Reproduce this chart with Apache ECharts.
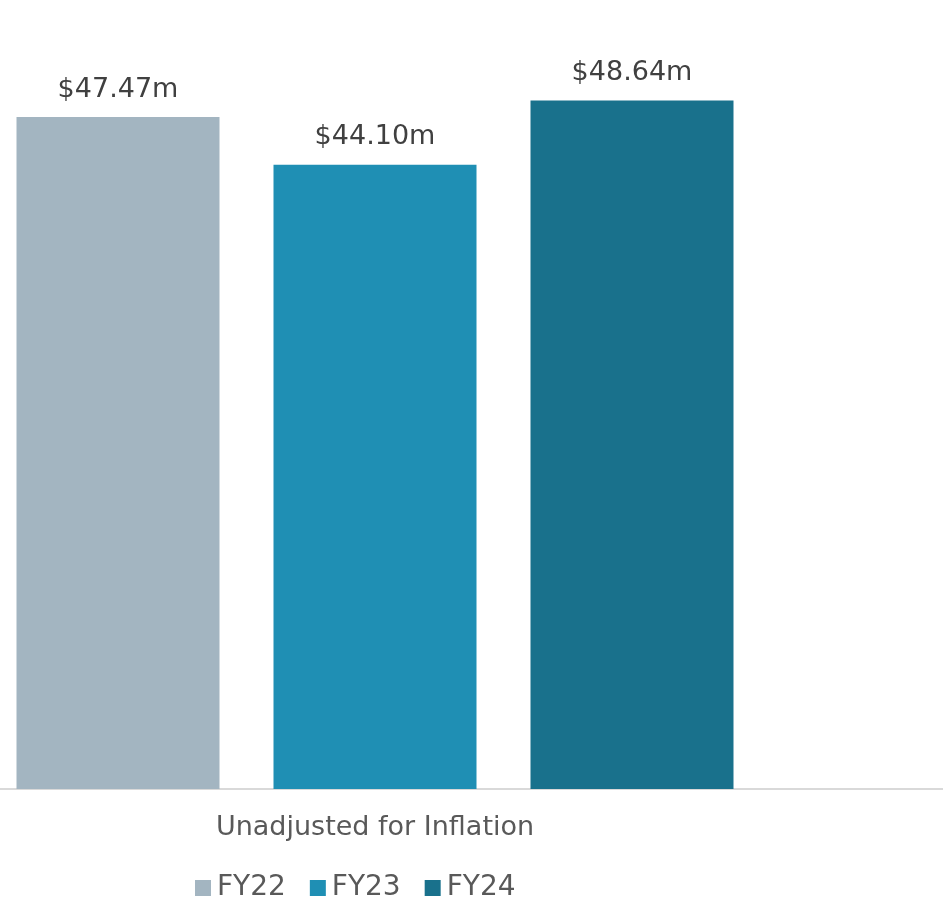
<!DOCTYPE html>
<html><head><meta charset="utf-8">
<script src="https://cdn.jsdelivr.net/npm/echarts@6/dist/echarts.min.js"></script>
<style>html,body{margin:0;padding:0;background:#fff}#c{width:943px;height:903px}</style>
</head><body><div id="c"></div>
<script>
const categories = ['Unadjusted for Inflation', ''];
const seriesNames = ['FY22', 'FY23', 'FY24'];
const fy22 = [47.47];
const fy23 = [44.10];
const fy24 = [48.64];
const colors = ['#a3b5c1', '#1f8fb4', '#19718c'];
const font = 'DejaVu Sans';
const chart = echarts.init(document.getElementById('c'));
const mk = (name, data, color) => ({
  name, type: 'bar', data, barWidth: 203, barGap: '26.6%',
  itemStyle: { color },
  label: { show: true, position: 'top', distance: 14, color: '#404040', fontFamily: font, fontSize: 27,
    formatter: p => '$' + p.value.toFixed(2) + 'm' }
});
chart.setOption({
  animation: false,
  color: colors,
  grid: { left: 0, top: 81.2, bottom: 114, width: 1500, outerBoundsMode: 'none', containLabel: false },
  xAxis: { type: 'category', data: categories,
    axisLine: { lineStyle: { color: '#d9d9d9', width: 2 } }, axisTick: { show: false },
    axisLabel: { color: '#595959', fontFamily: font, fontSize: 27, margin: 25 } },
  yAxis: { type: 'value', min: 0, max: 50, show: false, splitLine: { show: false } },
  legend: { top: 874, left: 195, padding: 0, itemWidth: 16, itemHeight: 16, itemGap: 24, icon: 'rect',
    textStyle: { color: '#595959', fontFamily: font, fontSize: 28, lineHeight: 28, padding: [0, 0, 0, 1] } },
  series: [mk(seriesNames[0], fy22, colors[0]), mk(seriesNames[1], fy23, colors[1]), mk(seriesNames[2], fy24, colors[2])]
});
</script></body></html>
